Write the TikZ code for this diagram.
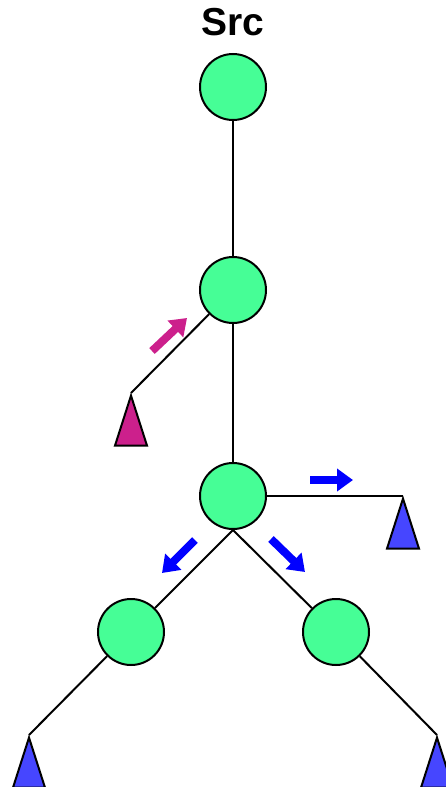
\documentclass[tikz,border=0pt]{standalone}
\usepackage{fontspec}
\setmainfont{Liberation Sans}
\usetikzlibrary{arrows.meta,shapes.geometric}
\definecolor{nodegreen}{RGB}{70,254,150}
\definecolor{leafmag}{RGB}{204,32,140}
\definecolor{leafblue}{RGB}{70,70,255}
\tikzset{
  router/.style={circle, draw, line width=1pt, fill=nodegreen, minimum size=33pt, inner sep=0pt},
  host/.style={isosceles triangle, isosceles triangle stretches, shape border rotate=90,
    draw, line width=1pt, minimum width=16pt, minimum height=25pt, inner sep=0pt, anchor=apex},
  link/.style={line width=1pt},
  flow/.style={line width=4pt, -{Triangle[length=8pt, width=11pt]}}
}
\begin{document}
\begin{tikzpicture}[x=0.5pt, y=-0.5pt]
	\useasboundingbox (0,0) rectangle (445,787);
	\node[font=\bfseries\fontsize{19.5}{22}\selectfont] (T) at (233,22) {Src};
	\node[router] (S) at (233,87) {};
	\node[router] (R1) at (233,290) {};
	\node[router] (R2) at (233,496) {};
	\node[router] (R3) at (131,632) {};
	\node[router] (R4) at (336,632) {};
	\node[host, fill=leafmag] (H1) at (131,393) {};
	\node[host, fill=leafblue] (H2) at (403,496) {};
	\node[host, fill=leafblue] (H3) at (29,735) {};
	\node[host, fill=leafblue] (H4) at (437,735) {};
	\draw[link] (S) -- (R1);
	\draw[link] (R1) -- (R2);
	\draw[link] (R1) -- (H1.apex);
	\draw[link] (R2) -- (H2.apex);
	\draw[link] (R2.south) -- (R3);
	\draw[link] (R2.south) -- (R4);
	\draw[link] (R3) -- (H3.apex);
	\draw[link] (R4) -- (H4.apex);
	% traffic directions
	\draw[flow, leafmag] (152,351) -- (187,318);
	\draw[flow, blue] (310,480) -- (353,480);
	\draw[flow, blue] (195,540) -- (162,573);
	\draw[flow, blue] (271,539) -- (305,572);
\end{tikzpicture}
\end{document}
